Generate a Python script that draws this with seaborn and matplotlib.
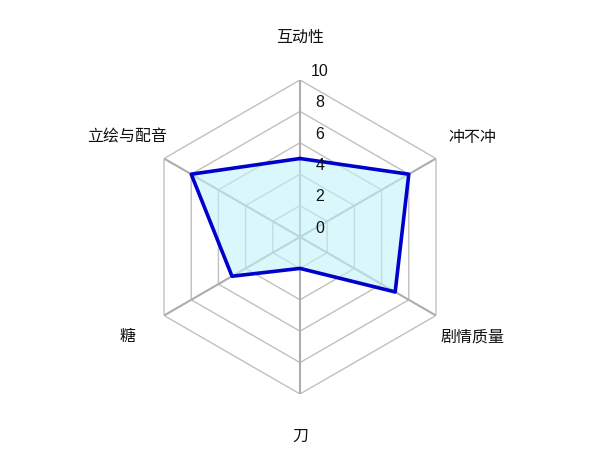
import numpy as np
import matplotlib
matplotlib.use("Agg")
import matplotlib.pyplot as plt
import seaborn as sns

# data
categories = ["互动性", "冲不冲", "剧情质量", "刀", "糖", "立绘与配音"]
scores = [5, 8, 7, 2, 5, 8]
rings = [2, 4, 6, 8, 10]
tick_values = [0, 2, 4, 6, 8, 10]

sns.set_theme(style="white")
plt.rcParams['font.family'] = ['Noto Sans CJK SC', 'DejaVu Sans']

fig = plt.figure(figsize=(6, 4.74), dpi=100)
w, h = 314 / 600, 314 / 474
ax = fig.add_axes([0.5 - w / 2, 0.5 - h / 2, w, h], projection='polar')
ax.set_theta_offset(np.pi / 2)
ax.set_theta_direction(-1)
ax.set_ylim(0, 10)
ax.grid(False)
ax.spines['polar'].set_visible(False)
ax.set_xticks([])
ax.set_yticks([])
ax.set_facecolor('white')

angles = np.linspace(0, 2 * np.pi, len(categories), endpoint=False)
closed = np.append(angles, angles[0])

# hexagon grid
for r in rings:
    ax.plot(closed, [r] * len(closed), color='#c0c0c0', lw=1, zorder=1)
for a in angles:
    ax.plot([a, a], [0, 10], color='#adadad', lw=1.5, zorder=1)

# data polygon
vals = scores + scores[:1]
ax.fill(closed, vals, color='#c2f2fa', alpha=0.6, zorder=2)
ax.plot(closed, vals, color='#0000cc', lw=2.6, zorder=3)

# radial tick labels
for v in tick_values:
    ax.annotate(str(v), (0, v), xytext=(14.4, 6.3), textcoords='offset points',
                ha='center', va='center', fontsize=11.5, color='#111111',
                family=['Liberation Sans', 'DejaVu Sans'],
                annotation_clip=False, zorder=4)

# category labels
for a, name in zip(angles, categories):
    ax.text(a, 12.7, name, ha='center', va='center', fontsize=11.5,
            color='#111111', clip_on=False)

fig.savefig("out.png", dpi=100)
